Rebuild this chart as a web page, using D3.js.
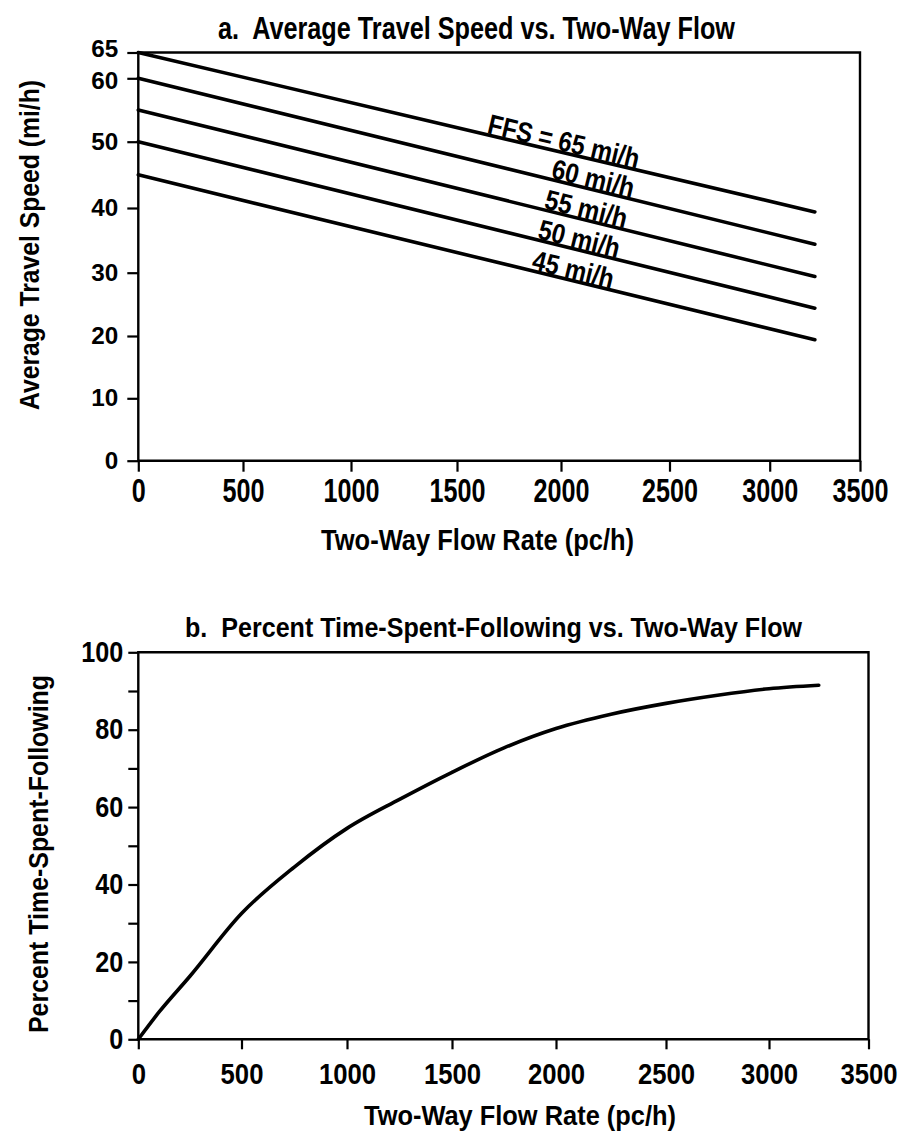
<!DOCTYPE html>
<html><head><meta charset="utf-8">
<script src="https://cdn.jsdelivr.net/npm/d3@7"></script>
<style>
body{margin:0;background:#fff;}
svg{display:block;}
svg text{white-space:pre;}
</style></head><body>
<svg id="chart" width="908" height="1133"></svg>
<script>
// ---------- data ----------
const flowTicks = [0, 500, 1000, 1500, 2000, 2500, 3000, 3500];
const speedTicks = [0, 10, 20, 30, 40, 50, 60, 65];
const ptsfTicks = [0, 20, 40, 60, 80, 100];
const ptsfMinorTicks = [10, 30, 50, 70, 90];

const ffsLabels = ["FFS = 65 mi/h", "60 mi/h", "55 mi/h", "50 mi/h", "45 mi/h"];
const speedFlow = [0, 3250];
const speedAtZero = [65, 60, 55, 50, 45];
const speedAtEnd = [39.4, 34.4, 29.4, 24.4, 19.4];

const ptsfFlow = [0, 100, 250, 500, 750, 1000, 1250, 1500, 1750, 2000, 2250, 2500, 2750, 3000, 3250];
const ptsfValues = [0, 7.0, 16.3, 32.5, 44.5, 54.5, 62, 69, 75.3, 80.3, 84, 86.8, 88.9, 90.6, 91.5];

// ---------- layout ----------
const FONT = "'Liberation Sans', Arial, sans-serif";
const svg = d3.select("#chart");

const xA = d3.scaleLinear().domain(flowTicks).range([138.3, 243, 351, 457, 561, 669.5, 769.7, 860]);
const yA = d3.scaleLinear().domain(speedTicks).range([460.7, 398.3, 336, 272.7, 208, 141.7, 78.3, 52.5]);
const xB = d3.scaleLinear().domain(flowTicks).range([138.3, 241.5, 347, 452, 556, 666, 769, 868.5]);
const yB = d3.scaleLinear().domain([0, 100]).range([1039.3, 652.3]);

function txt(x, y, s, size, len, anchor, rot) {
  const t = svg.append("text")
    .attr("font-family", FONT).attr("font-weight", "bold").attr("font-size", size)
    .attr("text-anchor", anchor || "middle").attr("fill", "#000")
    .text(s);
  if (len) t.attr("textLength", len).attr("lengthAdjust", "spacingAndGlyphs");
  if (rot) t.attr("transform", `translate(${x},${y}) rotate(${rot})`);
  else t.attr("x", x).attr("y", y);
  return t;
}

function styleAxis(g, size, perChar) {
  g.select(".domain").remove();
  g.selectAll(".tick line").attr("stroke", "#000").attr("stroke-width", 2.2);
  g.selectAll(".tick text")
    .attr("font-family", FONT).attr("font-weight", "bold").attr("font-size", size).attr("fill", "#000")
    .each(function () {
      const s = this.textContent;
      if (s.length && perChar) d3.select(this).attr("textLength", s.length * perChar).attr("lengthAdjust", "spacingAndGlyphs");
    });
}

function frame(x, y) {
  const [x0, x1] = [x.range()[0], x.range()[x.range().length - 1]];
  const [y0, y1] = [y.range()[0], y.range()[y.range().length - 1]];
  svg.append("path")
    .attr("d", `M${x0},${y0}H${x1}V${y1}H${x0}Z`)
    .attr("fill", "none").attr("stroke", "#000").attr("stroke-width", 2.4);
}

const fmt = d3.format("d");

// ---------- chart a ----------
frame(xA, yA);
styleAxis(svg.append("g").attr("transform", `translate(0,${yA(0)})`)
  .call(d3.axisBottom(xA).tickValues(flowTicks).tickFormat(fmt).tickSize(11).tickPadding(7).tickSizeOuter(0)), 33, 14);
const gyA = svg.append("g").attr("transform", `translate(${xA(0)},0)`)
  .call(d3.axisLeft(yA).tickValues(speedTicks).tickFormat(fmt).tickSize(11).tickPadding(9).tickSizeOuter(0));
styleAxis(gyA, 24, 13.5);
// the two crowded top labels sit slightly apart, as in the original
gyA.selectAll(".tick text").filter(d => d === 65).attr("dy", "0.15em");
gyA.selectAll(".tick text").filter(d => d === 60).attr("dy", "0.42em");

const lineA = d3.line().x(d => xA(d[0])).y(d => yA(d[1]));
speedAtZero.forEach((v, i) => {
  const pts = [[speedFlow[0], v], [speedFlow[1], speedAtEnd[i]]];
  svg.append("path").attr("d", lineA(pts))
    .attr("fill", "none").attr("stroke", "#000").attr("stroke-width", 3.6).attr("stroke-linecap", "round");
});

// labels placed along each line
const labelFlow = [2003, 2138, 2106, 2074, 2046];
const labelLen = [155, 84, 84, 83, 83];
speedAtZero.forEach((v, i) => {
  const x0 = xA(speedFlow[0]), y0 = yA(v), x1 = xA(speedFlow[1]), y1 = yA(speedAtEnd[i]);
  const ang = Math.atan2(y1 - y0, x1 - x0) * 180 / Math.PI;
  const px = xA(labelFlow[i]);
  const py = y0 + (px - x0) / (x1 - x0) * (y1 - y0);
  txt(px, py - 1.5, ffsLabels[i], 28, labelLen[i], "middle", ang);
});

txt(476.5, 39, "a.  Average Travel Speed vs. Two-Way Flow", 31, 517);
txt(477.6, 550, "Two-Way Flow Rate (pc/h)", 29, 313);
txt(39, 245, "Average Travel Speed (mi/h)", 28, 330, "middle", -90);

// ---------- chart b ----------
frame(xB, yB);
styleAxis(svg.append("g").attr("transform", `translate(0,${yB(0)})`)
  .call(d3.axisBottom(xB).tickValues(flowTicks).tickFormat(fmt).tickSize(10).tickPadding(13).tickSizeOuter(0)), 30, 14.3);
styleAxis(svg.append("g").attr("transform", `translate(${xB(0)},0)`)
  .call(d3.axisLeft(yB).tickValues(ptsfTicks).tickFormat(fmt).tickSize(10).tickPadding(5).tickSizeOuter(0)), 29, 14);
styleAxis(svg.append("g").attr("transform", `translate(${xB(0)},0)`)
  .call(d3.axisLeft(yB).tickValues(ptsfMinorTicks).tickFormat("").tickSize(10).tickSizeOuter(0)), 29, 0);

const lineB = d3.line().x(d => xB(d[0])).y(d => yB(d[1])).curve(d3.curveMonotoneX);
svg.append("path").attr("d", lineB(ptsfFlow.map((f, i) => [f, ptsfValues[i]])))
  .attr("fill", "none").attr("stroke", "#000").attr("stroke-width", 3.6).attr("stroke-linecap", "round");

txt(493.5, 637, "b.  Percent Time-Spent-Following vs. Two-Way Flow", 27, 617);
txt(520, 1125, "Two-Way Flow Rate (pc/h)", 28, 312);
txt(48, 854, "Percent Time-Spent-Following", 28, 358, "middle", -90);
</script>
</body></html>
